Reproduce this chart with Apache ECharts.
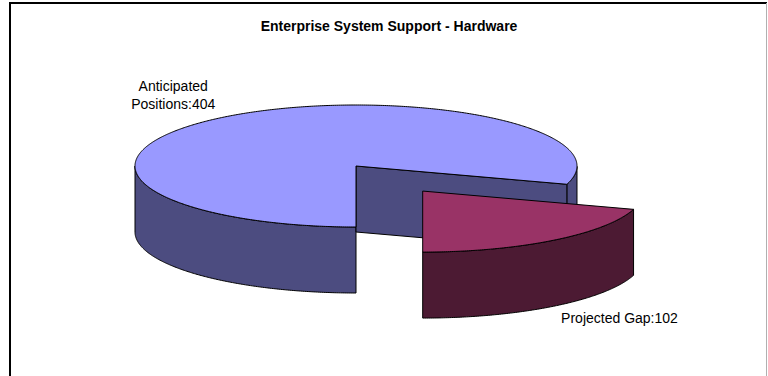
<!DOCTYPE html>
<html>
<head>
<meta charset="utf-8">
<title>Enterprise System Support - Hardware</title>
<script src="https://cdn.jsdelivr.net/npm/echarts@6/dist/echarts.min.js"></script>
<style>
  html, body { margin: 0; padding: 0; background: #fff; }
  #chart { width: 768px; height: 376px; }
</style>
</head>
<body>
<div id="chart"></div>
<script>
// Chart data
var chartTitle = 'Enterprise System Support - Hardware';
var categories = ['Anticipated\nPositions', 'Projected Gap'];
var values = [404, 102];

// Slice styling: top face colour, side colour, explosion (fraction of radius)
var topColors = ['#9999FF', '#993366'];
var sideColors = ['#4C4C80', '#4C1A33'];
var explode = [0, 0.51];
// Label offset from the slice's outer rim at its mid angle (px)
var labelOffsets = [[-52, -22], [66, 12]];

// Pie geometry (oblique projection of a flat cylinder)
var CX = 356, CY = 166, RX = 221, RY = 61, DEPTH = 66;
var START_DEG = 180;            // first slice starts at 6 o'clock, clockwise

var total = values.reduce(function (a, b) { return a + b; }, 0);
var DEG = Math.PI / 180;

function rim(cx, cy, phi, dy) {
  return [cx + RX * Math.sin(phi), cy - RY * Math.cos(phi) + (dy || 0)];
}

function renderSlice(params, api) {
  var idx = params.dataIndex;
  var before = 0;
  for (var i = 0; i < idx; i++) before += values[i];
  var v = api.value(0);
  var a = (START_DEG + before / total * 360) * DEG;
  var b = a + v / total * 360 * DEG;
  var mid = (a + b) / 2;
  var e = explode[idx];
  var cx = CX + RX * e * Math.sin(mid);
  var cy = CY - RY * e * Math.cos(mid);
  var children = [];
  var lineStyle = { stroke: '#000', lineWidth: 1, lineJoin: 'round' };
  var step = 0.5 * DEG;
  var n = Math.max(2, Math.ceil((b - a) / step));

  // outer curved side: only the part facing the viewer
  var run = [];
  function flush() {
    if (run.length > 1) {
      var pts = run.map(function (p) { return rim(cx, cy, p, 0); });
      for (var k = run.length - 1; k >= 0; k--) pts.push(rim(cx, cy, run[k], DEPTH));
      children.push({ type: 'polygon', shape: { points: pts },
        style: Object.assign({ fill: sideColors[idx] }, lineStyle) });
    }
    run = [];
  }
  for (var j = 0; j <= n; j++) {
    var phi = a + (b - a) * j / n;
    if (Math.cos(phi) <= 1e-9) run.push(phi); else flush();
  }
  flush();

  // radial cut faces
  function cutFace(phi) {
    var p = rim(cx, cy, phi, 0);
    children.push({ type: 'polygon',
      shape: { points: [[cx, cy], p, [p[0], p[1] + DEPTH], [cx, cy + DEPTH]] },
      style: Object.assign({ fill: sideColors[idx] }, lineStyle) });
  }
  if (Math.sin(a) < -1e-6) cutFace(a);
  if (Math.sin(b) > 1e-6) cutFace(b);

  // top face
  var top = [[cx, cy]];
  for (var t = 0; t <= n; t++) top.push(rim(cx, cy, a + (b - a) * t / n, 0));
  children.push({ type: 'polygon', shape: { points: top },
    style: Object.assign({ fill: topColors[idx] }, lineStyle) });

  // data label
  var front = Math.cos(mid) < 0;
  var lp = rim(cx, cy, mid, front ? DEPTH : 0);
  children.push({ type: 'text',
    x: lp[0] + labelOffsets[idx][0], y: lp[1] + labelOffsets[idx][1],
    style: { text: categories[idx] + ':' + v, align: 'center', verticalAlign: 'middle',
      font: '14px "Liberation Sans", Arial, sans-serif', fill: '#000', lineHeight: 18 } });

  return { type: 'group', children: children };
}

var chart = echarts.init(document.getElementById('chart'), null, { renderer: 'svg' });
chart.setOption({
  animation: false,
  backgroundColor: '#fff',
  title: {
    text: chartTitle,
    left: 384, top: 14, textAlign: 'center',
    textStyle: { fontFamily: '"Liberation Sans", Arial, sans-serif', fontSize: 14, fontWeight: 'bold', color: '#000' }
  },
  graphic: [
    { type: 'line', silent: true, shape: { x1: 10, y1: 3, x2: 767, y2: 3 },
      style: { stroke: '#000', lineWidth: 2 } },
    { type: 'line', silent: true, shape: { x1: 10, y1: 2, x2: 10, y2: 376 },
      style: { stroke: '#000', lineWidth: 2 } },
    { type: 'line', silent: true, shape: { x1: 766.5, y1: 3, x2: 766.5, y2: 376 },
      style: { stroke: '#b0b0b0', lineWidth: 1 } }
  ],
  series: [{
    type: 'custom',
    coordinateSystem: 'none',
    renderItem: renderSlice,
    data: values.map(function (v, i) { return { name: categories[i], value: [v] }; })
  }]
});
</script>
</body>
</html>
